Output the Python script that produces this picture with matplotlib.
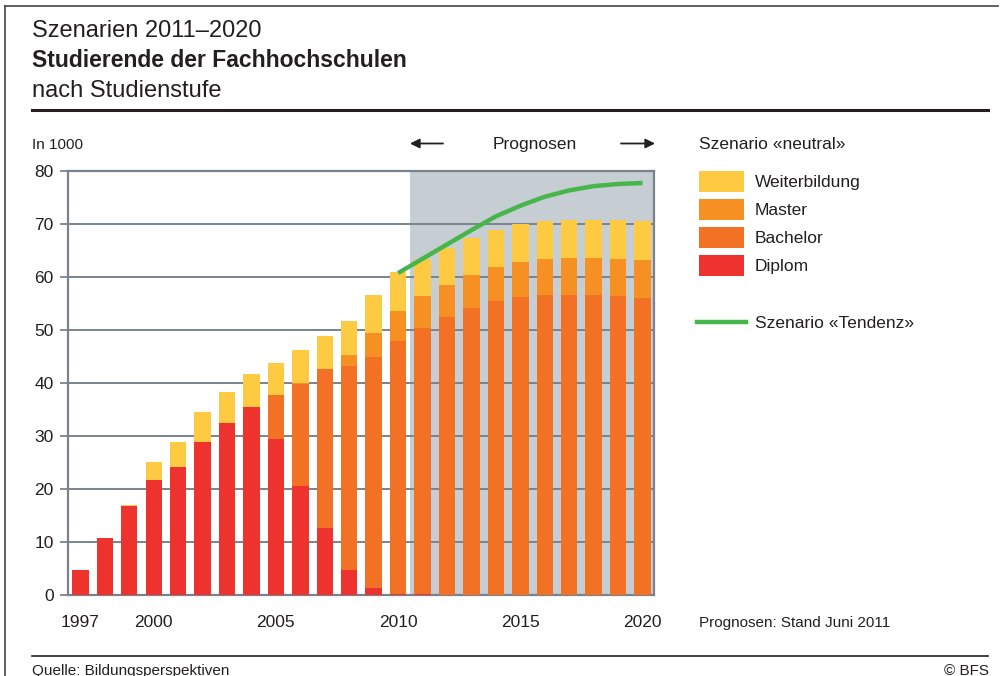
# Студенты Fachhochschulen по ступеням обучения, 1997-2020

import matplotlib.pyplot as plt
from matplotlib.patches import Rectangle, FancyArrowPatch

years = list(range(1997, 2021))
diplom = [4.8, 10.9, 16.9, 21.8, 24.2, 28.9, 32.5, 35.5, 29.5, 20.6, 12.7, 4.8,
          1.4, 0.3, 0.2, 0.1, 0, 0, 0, 0, 0, 0, 0, 0]
bachelor = [0, 0, 0, 0, 0, 0, 0, 0, 8.2, 19.3, 30.0, 38.5,
            43.6, 47.7, 50.2, 52.4, 54.2, 55.5, 56.3, 56.7, 56.7, 56.7, 56.5, 56.1]
master = [0, 0, 0, 0, 0, 0, 0, 0, 0.1, 0.1, 0, 2.0,
          4.5, 5.6, 6.1, 6.1, 6.2, 6.4, 6.6, 6.8, 6.9, 6.9, 7.0, 7.2]
weiterbildung = [0, 0, 0.1, 3.4, 4.7, 5.7, 5.9, 6.3, 6.0, 6.3, 6.2, 6.5,
                 7.2, 7.4, 7.0, 6.9, 7.0, 7.0, 7.2, 7.1, 7.2, 7.3, 7.3, 7.3]

tendenz_years = list(range(2010, 2021))
tendenz = [60.8, 63.5, 66.2, 68.9, 71.5, 73.5, 75.2, 76.4, 77.2, 77.6, 77.8]

series_names = ['Weiterbildung', 'Master', 'Bachelor', 'Diplom']
series_colors = ['#fdca42', '#f69022', '#f27124', '#ee322e']
tick_years = [1997, 2000, 2005, 2010, 2015, 2020]

plt.rcParams['font.family'] = ['Liberation Sans', 'DejaVu Sans']
text_color = '#231f20'
grid_color = '#78838d'

W, H = 1003, 676
fig = plt.figure(figsize=(W / 100, H / 100), dpi=100)


def fx(px):
    return px / W


def fy(py):
    return 1 - py / H


ax = fig.add_axes([fx(67.7), fy(595.3), fx(654) - fx(67.7), fy(171.3) - fy(595.3)])

# Серая зона прогноза:
ax.axvspan(2010.5, 2020.47, color='#c6cdd3', zorder=0, lw=0)

# Столбики снизу вверх:
bottom = [0] * len(years)
for values, color in [(diplom, series_colors[3]), (bachelor, series_colors[2]),
                      (master, series_colors[1]), (weiterbildung, series_colors[0])]:
    ax.bar(years, values, bottom=bottom, width=0.67, color=color, lw=0, zorder=3)
    bottom = [b + v for b, v in zip(bottom, values)]

ax.plot(tendenz_years, tendenz, color='#46b64b', lw=3.2, zorder=4, solid_capstyle='butt')

ax.set_xlim(1996.48, 2020.47)
ax.set_ylim(0, 80)
ax.set_yticks(range(0, 81, 10))
ax.set_xticks(tick_years)
ax.yaxis.grid(True, color=grid_color, lw=1.4, zorder=1)
ax.set_axisbelow(True)
for side in ['left', 'right', 'top', 'bottom']:
    ax.spines[side].set_color(grid_color)
    ax.spines[side].set_linewidth(1.6)
ax.tick_params(axis='y', length=6, width=1.3, color=grid_color, pad=4,
               labelsize=12.5, labelcolor=text_color)
ax.tick_params(axis='x', length=0, pad=14, labelsize=12.5, labelcolor=text_color)

# Рамка и заголовки:
fig.add_artist(plt.Line2D([fx(5), fx(998)], [fy(6), fy(6)], color='#444444', lw=1.2))
fig.add_artist(plt.Line2D([fx(5), fx(5)], [fy(6), fy(676)], color='#444444', lw=1.2))
fig.text(fx(32), fy(37.3), 'Szenarien 2011–2020', fontsize=17, color=text_color, va='baseline')
fig.text(fx(32), fy(66.7), 'Studierende der Fachhochschulen', fontsize=16.5,
         fontweight='bold', color=text_color, va='baseline')
fig.text(fx(32), fy(96.7), 'nach Studienstufe', fontsize=17, color=text_color, va='baseline')
fig.add_artist(plt.Line2D([fx(32), fx(988)], [fy(110), fy(110)], color=text_color, lw=2.2))
fig.text(fx(32), fy(149), 'In 1000', fontsize=11, color=text_color, va='baseline')

# Прогнозы со стрелками:
fig.text(fx(535), fy(149), 'Prognosen', fontsize=12.5, color=text_color,
         ha='center', va='baseline')
for x0, x1 in [(443, 410), (621, 655)]:
    fig.patches.append(FancyArrowPatch(
        (fx(x0), fy(143.5)), (fx(x1), fy(143.5)), transform=fig.transFigure,
        arrowstyle='-|>', mutation_scale=14, color=text_color, lw=1.3,
        shrinkA=0, shrinkB=0))

# Легенда:
fig.text(fx(699), fy(149), 'Szenario «neutral»', fontsize=12.5, color=text_color, va='baseline')
for i, (name, color) in enumerate(zip(series_names, series_colors)):
    yc = 181.5 + i * 27.9
    fig.patches.append(Rectangle((fx(699), fy(yc + 10.3)), fx(744) - fx(699), 20.6 / H,
                                 transform=fig.transFigure, color=color, lw=0))
    fig.text(fx(755), fy(yc), name, fontsize=12.5, color=text_color, va='center_baseline')
fig.add_artist(plt.Line2D([fx(697), fx(746)], [fy(322), fy(322)], color='#46b64b', lw=3.2))
fig.text(fx(755), fy(322), 'Szenario «Tendenz»', fontsize=12.5, color=text_color,
         va='center_baseline')

fig.text(fx(699), fy(626.7), 'Prognosen: Stand Juni 2011', fontsize=11, color=text_color,
         va='baseline')

# Подвал:
fig.add_artist(plt.Line2D([fx(32), fx(988)], [fy(656), fy(656)], color=text_color, lw=1.2))
fig.text(fx(32), fy(675), 'Quelle: Bildungsperspektiven', fontsize=11, color=text_color,
         va='baseline')
fig.text(fx(989), fy(675), '© BFS', fontsize=11, color=text_color, ha='right', va='baseline')

fig.savefig('out.png', dpi=100)
